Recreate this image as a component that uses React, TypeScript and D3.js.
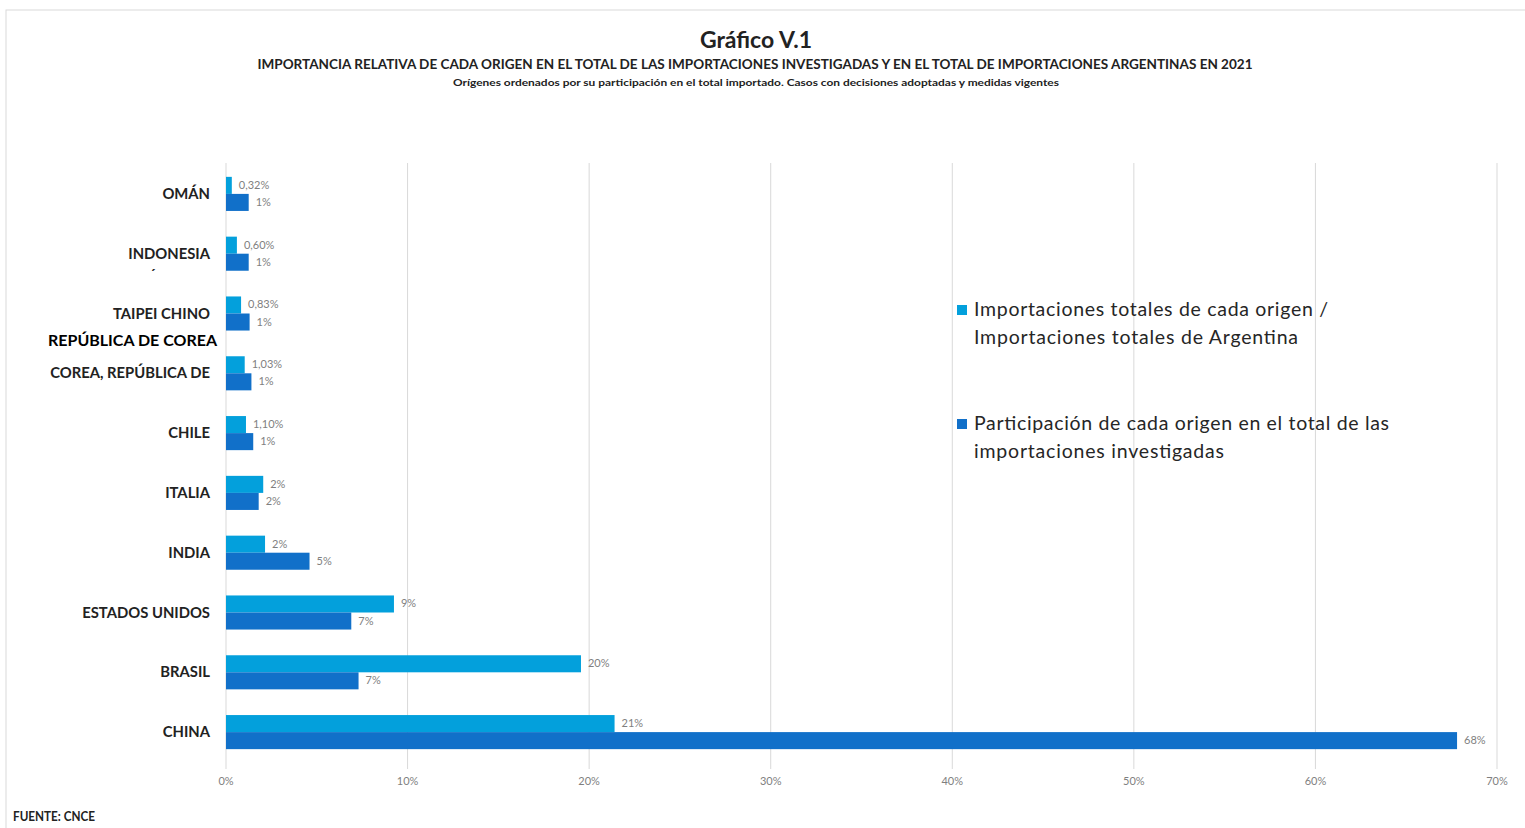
import React from "react";
import * as d3 from "d3";

const categories = ["OMÁN", "INDONESIA", "TAIPEI CHINO", "COREA, REPÚBLICA DE", "CHILE", "ITALIA", "INDIA", "ESTADOS UNIDOS", "BRASIL", "CHINA"];
const totalShare = [0.32, 0.6, 0.83, 1.03, 1.1, 2.05, 2.15, 9.25, 19.55, 21.4];
const totalLabels = ["0,32%", "0,60%", "0,83%", "1,03%", "1,10%", "2%", "2%", "9%", "20%", "21%"];
const investigatedShare = [1.25, 1.25, 1.3, 1.4, 1.5, 1.8, 4.6, 6.9, 7.3, 67.8];
const investigatedLabels = ["1%", "1%", "1%", "1%", "1%", "2%", "5%", "7%", "7%", "68%"];
const xTicks = [0, 10, 20, 30, 40, 50, 60, 70];
const seriesNames = [
  ["Importaciones totales de cada origen /", "Importaciones totales de Argentina"],
  ["Participación de cada origen en el total de las", "importaciones investigadas"],
];
const legendWidths = [[354, 324], [415, 250]];

const LIGHT = "#03a0dc";
const DARK = "#1170c9";
const FONT = "Lato, 'Open Sans', sans-serif";

export default function App() {
  const W = 1525, H = 828;
  const x = d3.scaleLinear().domain([0, 70]).range([226, 1497]);
  const y = d3.scaleBand<string>().domain(categories).range([164, 762]).paddingInner(0.43).paddingOuter(0.215);
  const bh = y.bandwidth() / 2;

  return (
    <svg width={W} height={H} style={{ position: "absolute", left: 0, top: 0, background: "#fff" }}>
      <rect x={6} y={10} width={1530} height={830} fill="#fff" stroke="#d9d9d9" strokeWidth={1} />
      <text x={756} y={48} textAnchor="middle" fontFamily={FONT} fontWeight="bold" fontSize={23} fill="#222">Gráfico V.1</text>
      <text x={755} y={69} textAnchor="middle" fontFamily={FONT} fontWeight="bold" fontSize={12.5} fill="#222" textLength={995} lengthAdjust="spacingAndGlyphs">IMPORTANCIA RELATIVA DE CADA ORIGEN EN EL TOTAL DE LAS IMPORTACIONES INVESTIGADAS Y EN EL TOTAL DE IMPORTACIONES ARGENTINAS EN 2021</text>
      <text x={756} y={86} textAnchor="middle" fontFamily={FONT} fontWeight="bold" fontSize={10} fill="#222" textLength={606} lengthAdjust="spacingAndGlyphs">Orígenes ordenados por su participación en el total importado. Casos con decisiones adoptadas y medidas vigentes</text>

      {xTicks.map((t) => (
        <g key={t}>
          <line x1={x(t)} x2={x(t)} y1={163} y2={769} stroke="#d9d9d9" strokeWidth={1} />
          <text x={x(t)} y={785} textAnchor="middle" fontFamily={FONT} fontSize={11} fill="#7f7f7f">{t}%</text>
        </g>
      ))}

      {categories.map((c, i) => {
        const y0 = y(c)!;
        return (
          <g key={c}>
            <rect x={x(0)} y={y0} width={x(totalShare[i]) - x(0)} height={bh} fill={LIGHT} />
            <rect x={x(0)} y={y0 + bh} width={x(investigatedShare[i]) - x(0)} height={bh} fill={DARK} />
            <text x={x(totalShare[i]) + 7} y={y0 + bh / 2 + 3.5} fontFamily={FONT} fontSize={11} fill="#7f7f7f">{totalLabels[i]}</text>
            <text x={x(investigatedShare[i]) + 7} y={y0 + bh * 1.5 + 3.5} fontFamily={FONT} fontSize={11} fill="#7f7f7f">{investigatedLabels[i]}</text>
            <text x={210} y={y0 + bh + 5} textAnchor="end" fontFamily={FONT} fontWeight="bold" fontSize={14.8} fill="#222">{c}</text>
          </g>
        );
      })}
      <text x={48} y={346} fontFamily={FONT} fontWeight="bold" fontSize={16} fill="#000">REPÚBLICA DE COREA</text>
      <text x={150} y={279} fontFamily={FONT} fontWeight="bold" fontSize={14} fill="#222">´</text>

      {seriesNames.map((lines, i) => {
        const ly = 310 + i * 114;
        return (
          <g key={i}>
            <rect x={957} y={ly - 5} width={10} height={10} fill={i === 0 ? LIGHT : DARK} />
            {lines.map((l, j) => (
              <text key={j} x={974} y={ly + 6 + j * 28} fontFamily={FONT} fontSize={19.5} fill="#262626" textLength={legendWidths[i][j]} lengthAdjust="spacing">{l}</text>
            ))}
          </g>
        );
      })}

      <text x={13} y={821} fontFamily={FONT} fontWeight="bold" fontSize={13} fill="#222" textLength={82} lengthAdjust="spacingAndGlyphs">FUENTE: CNCE</text>
    </svg>
  );
}
